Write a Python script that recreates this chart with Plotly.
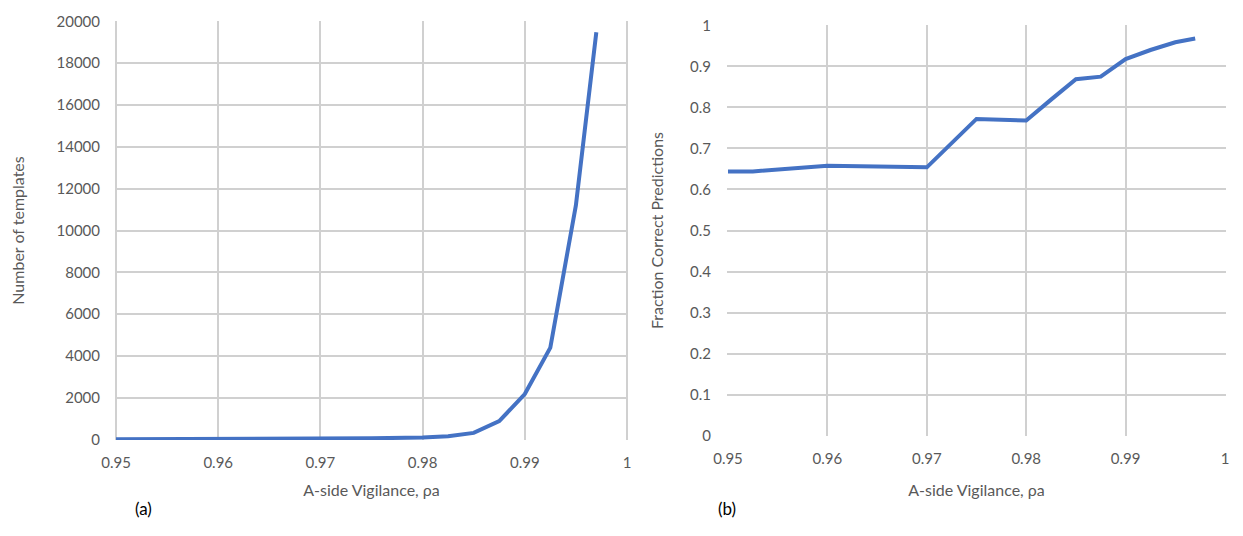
import plotly.graph_objects as go

vigilance = [0.95, 0.9525, 0.96, 0.97, 0.975, 0.98, 0.9825, 0.985, 0.9875, 0.99, 0.9925, 0.995, 0.997]
num_templates = [10, 12, 20, 40, 60, 100, 160, 320, 880, 2180, 4400, 11200, 19480]
fraction_correct = [0.644, 0.644, 0.658, 0.654, 0.772, 0.768, 0.819, 0.869, 0.875, 0.918, 0.940, 0.959, 0.968]

x_ticks = [0.95, 0.96, 0.97, 0.98, 0.99, 1.0]
x_tick_text = ["0.95", "0.96", "0.97", "0.98", "0.99", "1"]
y1_ticks = list(range(0, 20001, 2000))
y1_tick_text = [str(v) for v in y1_ticks]
y2_ticks = [0, 0.1, 0.2, 0.3, 0.4, 0.5, 0.6, 0.7, 0.8, 0.9, 1.0]
y2_tick_text = ["0", "0.1", "0.2", "0.3", "0.4", "0.5", "0.6", "0.7", "0.8", "0.9", "1"]

LINE = "#4472C4"
TXT = "#595959"
GRID = "#D0D0D0"
FONT = "Lato"

fig = go.Figure()
fig.add_trace(go.Scatter(x=vigilance, y=num_templates, mode="lines",
                         line=dict(color=LINE, width=4), xaxis="x", yaxis="y",
                         showlegend=False, hoverinfo="skip"))
fig.add_trace(go.Scatter(x=vigilance, y=fraction_correct, mode="lines",
                         line=dict(color=LINE, width=4), xaxis="x2", yaxis="y2",
                         showlegend=False, hoverinfo="skip"))

axcommon = dict(showgrid=True, gridcolor=GRID, gridwidth=1.5, zeroline=False,
                showline=False, ticks="", automargin=False, ticklabeloverflow="allow",
                tickfont=dict(family=FONT, size=15, color=TXT),
                title_font=dict(family=FONT, size=16, color=TXT))

W, H = 1243, 536


def px_x(v):
    return v / W


def px_y(v):
    return (H - v) / H


fig.update_layout(
    width=W, height=H,
    margin=dict(l=0, r=0, t=0, b=0, autoexpand=False),
    paper_bgcolor="white", plot_bgcolor="white",
    font=dict(family=FONT, color=TXT),
    xaxis=dict(domain=[px_x(115), px_x(628)], anchor="y", range=[0.9499, 1.0001],
               tickvals=x_ticks, ticktext=x_tick_text, ticklabelstandoff=12,
               title=dict(text="A-side Vigilance, ρa", standoff=14), **axcommon),
    yaxis=dict(domain=[px_y(440), px_y(21)], anchor="x", range=[-20, 20020],
               tickvals=y1_ticks, ticktext=y1_tick_text, ticklabelstandoff=14,
               title=dict(text="Number of templates", standoff=27), **axcommon),
    xaxis2=dict(domain=[px_x(727), px_x(1226)], anchor="y2", range=[0.9499, 1.0001],
                tickvals=x_ticks, ticktext=x_tick_text, ticklabelstandoff=12,
                title=dict(text="A-side Vigilance, ρa", standoff=18), **axcommon),
    yaxis2=dict(domain=[px_y(436), px_y(25)], anchor="x2", range=[-0.001, 1.001],
                tickvals=y2_ticks, ticktext=y2_tick_text, ticklabelstandoff=15,
                title=dict(text="Fraction Correct Predictions", standoff=22), **axcommon),
    annotations=[
        dict(text="(a)", x=px_x(133), y=px_y(521), xref="paper", yref="paper",
             showarrow=False, font=dict(family=FONT, size=17, color="black")),
        dict(text="(b)", x=px_x(727), y=px_y(521), xref="paper", yref="paper",
             showarrow=False, font=dict(family=FONT, size=17, color="black")),
    ],
)

fig.write_html("out.html", config={"displayModeBar": False},
               post_script="document.body.style.margin='0';document.body.style.overflow='hidden';")
